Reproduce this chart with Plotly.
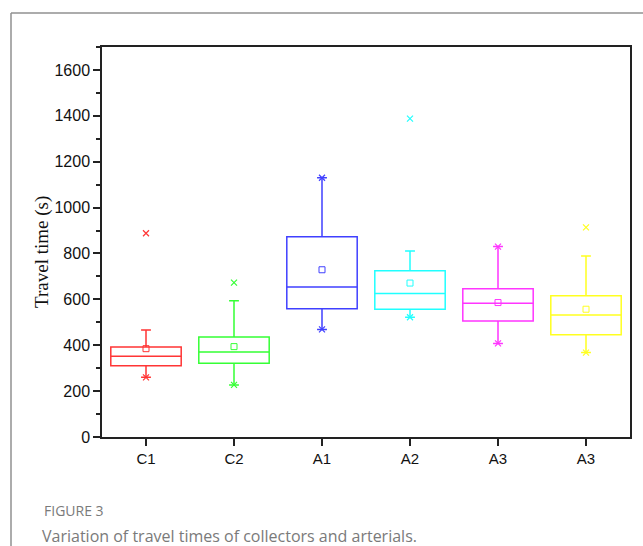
import plotly.graph_objects as go

categories = ["C1", "C2", "A1", "A2", "A3", "A3"]
q1 = [311, 321, 559, 557, 506, 446]
median = [352, 371, 654, 625, 583, 532]
q3 = [392, 436, 873, 725, 646, 616]
lower_whisker = [260, 227, 469, 522, 408, 368]
upper_whisker = [466, 594, 1130, 811, 830, 789]
means = [385, 394, 729, 671, 586, 557]
minima = [260, 227, 469, 522, 408, 368]
maxima = [888, 673, 1130, 1388, 830, 914]
colors = ["#ff3535", "#35ff35", "#4040ff", "#20ffff", "#ff35ff", "#ffff20"]

y_ticks = [0, 200, 400, 600, 800, 1000, 1200, 1400, 1600]

fig = go.Figure()
for i, cat in enumerate(categories):
    fig.add_trace(go.Box(
        x=[i], q1=[q1[i]], median=[median[i]], q3=[q3[i]],
        lowerfence=[lower_whisker[i]], upperfence=[upper_whisker[i]],
        width=0.8, whiskerwidth=0.14,
        line=dict(color=colors[i], width=1.5),
        fillcolor="rgba(0,0,0,0)",
        boxpoints=False, showlegend=False, hoverinfo="skip",
    ))
    fig.add_trace(go.Scatter(
        x=[i], y=[means[i]], mode="markers",
        marker=dict(symbol="square-open", size=6, color=colors[i], line=dict(width=1)),
        showlegend=False, hoverinfo="skip",
    ))
    fig.add_trace(go.Scatter(
        x=[i, i], y=[minima[i], maxima[i]], mode="markers",
        marker=dict(symbol="x-thin-open", size=6, color=colors[i], line=dict(width=1.2, color=colors[i])),
        showlegend=False, hoverinfo="skip",
    ))

# outer figure frame (left and top edges visible)
fx = (11 - 102) / 528
fy = (437 - 13) / 390
fig.add_shape(type="line", xref="paper", yref="paper",
              x0=fx, x1=1.1, y0=fy, y1=fy,
              line=dict(color="#909090", width=1.5))
fig.add_shape(type="line", xref="paper", yref="paper",
              x0=fx, x1=fx, y0=fy, y1=-0.4,
              line=dict(color="#909090", width=1.5))

# y-axis title
fig.add_annotation(text="Travel time (s)", xref="paper", yref="paper",
                   x=(42 - 102) / 528, y=(437 - 252) / 390, xanchor="center", yanchor="middle",
                   textangle=-90, showarrow=False,
                   font=dict(family="Liberation Serif", size=19, color="#111"))

fig.add_annotation(text="FIGURE 3", xref="paper", yref="paper",
                   x=(42 - 102) / 528, y=(437 - 510) / 390, xanchor="left", yanchor="middle",
                   showarrow=False, font=dict(family="Open Sans", size=14, color="#7a7a7a"))
fig.add_annotation(text="Variation of travel times of collectors and arterials.", xref="paper", yref="paper",
                   x=(40 - 102) / 528, y=(437 - 536) / 390, xanchor="left", yanchor="middle",
                   showarrow=False, font=dict(family="Open Sans", size=16, color="#7a7a7a"))

fig.update_layout(
    width=643, height=546,
    margin=dict(l=102, r=13, t=47, b=109),
    paper_bgcolor="white", plot_bgcolor="white",
    font=dict(family="Liberation Sans, Arial", size=15, color="#111"),
)
fig.update_xaxes(
    range=[-0.5, 5.5], tickvals=list(range(len(categories))), ticktext=categories,
    ticks="outside", ticklen=7, tickwidth=1.5, tickcolor="#222",
    showline=True, linecolor="#222", linewidth=1.5, mirror=True,
    showgrid=False, zeroline=False, tickfont=dict(size=15),
)
fig.update_yaxes(
    range=[0, 1700], tickvals=y_ticks,
    ticks="outside", ticklen=7, tickwidth=1.5, tickcolor="#222",
    minor=dict(dtick=100, tick0=0, ticks="outside", ticklen=4, tickwidth=1.5, tickcolor="#222"),
    showline=True, linecolor="#222", linewidth=1.5, mirror=True,
    showgrid=False, zeroline=False, tickfont=dict(size=16),
)

fig.write_html("out.html", config={"displayModeBar": False},
               post_script="document.body.style.margin='0';document.body.style.overflow='hidden';")
